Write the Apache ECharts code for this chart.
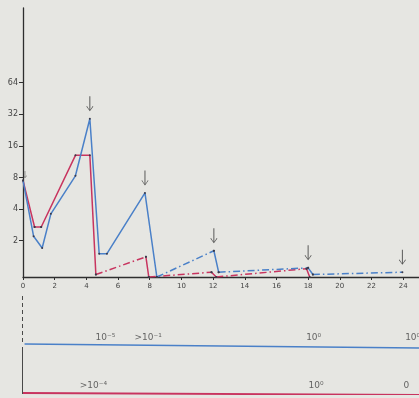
<!DOCTYPE html>
<html>
<head>
<meta charset="utf-8">
<script src="https://cdn.jsdelivr.net/npm/echarts@6/dist/echarts.min.js"></script>
<style>
  html, body { margin: 0; padding: 0; background: #e6e6e2; }
  #chart { width: 419px; height: 398px; }
</style>
</head>
<body>
<div id="chart"></div>
<script>
// Tick positions
const xTicks = [0, 2, 4, 6, 8, 10, 12, 14, 16, 18, 20, 22, 24];
const yTicks = [2, 4, 8, 16, 32, 64];

// Blue curve: hours, value, and style of each segment ('s' solid, 'd' dash-dot)
const blueX = [0, 0.67, 1.21, 1.76, 3.31, 4.22, 4.81, 5.3, 7.7, 8.45, 12.05, 12.35, 18.0, 18.3, 23.95];
const blueY = [7.5, 2.2, 1.7, 3.6, 8.3, 29, 1.5, 1.5, 5.7, 0.9, 1.6, 1.0, 1.1, 0.95, 1.0];
const blueSeg = ['s', 's', 's', 's', 's', 's', 's', 's', 's', 'd', 's', 'd', 's', 'd'];

// Red curve
const redX = [0, 0.73, 1.15, 3.31, 4.22, 4.6, 7.76, 7.94, 11.9, 12.2, 17.9, 18.1];
const redY = [7.5, 2.7, 2.7, 13, 13, 0.95, 1.4, 0.9, 1.0, 0.9, 1.08, 0.9];
const redSeg = ['s', 'd', 's', 's', 's', 'd', 's', 'd', 's', 'd', 's'];

// Arrows marking the blue peaks
const arrowX = [4.22, 7.7, 12.05, 18.0, 23.95];
const arrowY = [29, 5.7, 1.6, 1.1, 1.0];
const startArrowX = [0];
const startArrowY = [7.5];

// Lower strip: two reference lines with annotations
const stripBlueLabels = [[5.2, '10⁻⁵'], [7.9, '>10⁻¹'], [18.35, '10⁰'], [24.6, '10⁰']];
const stripRedLabels = [[4.45, '>10⁻⁴'], [18.5, '10⁰'], [24.2, '0']];

const BLUE = '#4a80c8';
const RED = '#c8345f';
const INK = '#2e2e2e';
const FONT = 'DejaVu Sans';

function pieces(xs, ys, seg, kind) {
  const out = [];
  for (let i = 0; i < seg.length; i++) {
    if (seg[i] !== kind) continue;
    if (i === 0 || seg[i - 1] !== kind) {
      if (out.length) out.push([xs[i], null]);
      out.push([xs[i], ys[i]]);
    }
    out.push([xs[i + 1], ys[i + 1]]);
  }
  return out;
}

function lineSeries(xs, ys, seg, color) {
  return ['s', 'd'].map(kind => ({
    type: 'line',
    xAxisIndex: 0, yAxisIndex: 0,
    data: pieces(xs, ys, seg, kind),
    connectNulls: false,
    symbol: 'circle',
    symbolSize: 2,
    showSymbol: true,
    itemStyle: { color: '#3a3a4a' },
    lineStyle: { color: color, width: 1.5, type: kind === 's' ? 'solid' : [7, 3, 1.5, 3] },
    animation: false,
    z: 3
  }));
}

const ARROW = 'path://M4.4,0 L5.6,0 L5.6,18 L8.6,13 L9.4,13.6 L5,20 L0.6,13.6 L1.4,13 L4.4,18 Z';

const chart = echarts.init(document.getElementById('chart'), null, { renderer: 'canvas' });

const option = {
  backgroundColor: '#e6e6e2',
  animation: false,
  grid: [
    { left: 23, right: 0, top: 8, bottom: 121 },
    { left: 23, right: 0, top: 296, bottom: 4 }
  ],
  xAxis: [
    {
      gridIndex: 0, type: 'value', min: 0, max: 25,
      splitLine: { show: false },
      axisLine: { lineStyle: { color: INK, width: 1.3 } },
      axisTick: { customValues: xTicks, length: 3, lineStyle: { color: INK } },
      axisLabel: { customValues: xTicks, fontSize: 7, color: '#444', margin: 6, fontFamily: FONT }
    },
    {
      gridIndex: 1, type: 'value', min: 0, max: 25, show: false
    }
  ],
  yAxis: [
    {
      gridIndex: 0, type: 'log', logBase: 2, min: 0.9, max: 330,
      splitLine: { show: false },
      axisLine: { show: true, lineStyle: { color: INK, width: 1.3 } },
      axisTick: { customValues: yTicks, length: 4, lineStyle: { color: INK } },
      axisLabel: { customValues: yTicks, fontSize: 8, color: '#444', margin: 5, fontFamily: FONT }
    },
    {
      gridIndex: 1, type: 'value', min: 0, max: 2, show: false
    }
  ],
  series: [
    ...lineSeries(redX, redY, redSeg, RED),
    ...lineSeries(blueX, blueY, blueSeg, BLUE),
    {
      type: 'scatter', xAxisIndex: 0, yAxisIndex: 0,
      data: arrowX.map((x, i) => [x, arrowY[i]]),
      symbol: ARROW, symbolSize: [7, 15], symbolOffset: [0, -15],
      itemStyle: { color: INK }, z: 5, silent: true
    },
    {
      type: 'scatter', xAxisIndex: 0, yAxisIndex: 0,
      data: startArrowX.map((x, i) => [x, startArrowY[i]]),
      symbol: ARROW, symbolSize: [4, 7], symbolOffset: [2, -6],
      itemStyle: { color: INK }, z: 5, silent: true
    },
    // lower strip: vertical guide (dashed above the blue line, solid below)
    {
      type: 'line', xAxisIndex: 1, yAxisIndex: 1,
      data: [[-0.05, 2], [-0.05, 1.06]], symbol: 'none',
      lineStyle: { color: INK, width: 1.3, type: [4, 3] }
    },
    {
      type: 'line', xAxisIndex: 1, yAxisIndex: 1,
      data: [[-0.05, 0.96], [-0.05, 0]], symbol: 'none',
      lineStyle: { color: INK, width: 1.3 }
    },
    {
      type: 'line', xAxisIndex: 1, yAxisIndex: 1,
      data: [[0.1, 1.02], [25, 0.94]], symbol: 'none',
      lineStyle: { color: BLUE, width: 1.6 }
    },
    {
      type: 'line', xAxisIndex: 1, yAxisIndex: 1,
      data: [[0, 0.02], [25, -0.02]], symbol: 'none',
      lineStyle: { color: RED, width: 1.8 }
    },
    {
      type: 'scatter', xAxisIndex: 1, yAxisIndex: 1, symbolSize: 0,
      data: stripBlueLabels.map(d => ({ value: [d[0], 1], name: d[1] })),
      label: { show: true, position: 'top', distance: 3, formatter: p => p.name,
               fontSize: 9, color: '#444', fontFamily: FONT }
    },
    {
      type: 'scatter', xAxisIndex: 1, yAxisIndex: 1, symbolSize: 0,
      data: stripRedLabels.map(d => ({ value: [d[0], 0], name: d[1] })),
      label: { show: true, position: 'top', distance: 4, formatter: p => p.name,
               fontSize: 9, color: '#444', fontFamily: FONT }
    }
  ]
};

chart.setOption(option);
</script>
</body>
</html>
